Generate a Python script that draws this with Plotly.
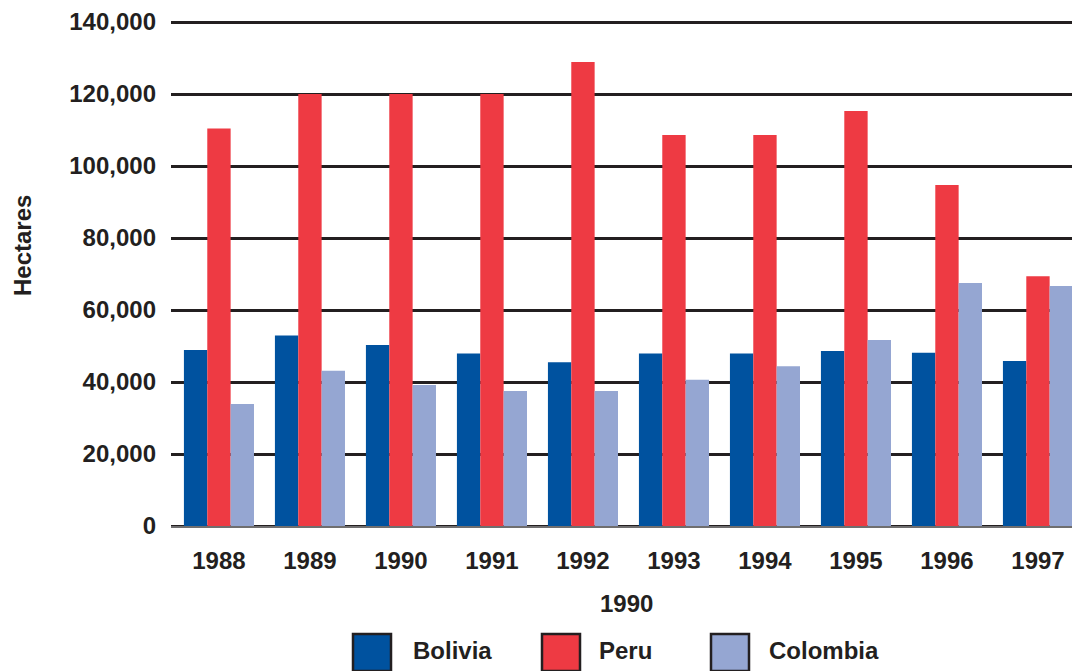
import plotly.graph_objects as go

# Coca cultivation by country, hectares
years = ["1988", "1989", "1990", "1991", "1992", "1993", "1994", "1995", "1996", "1997"]
bolivia = [48900, 52900, 50300, 47900, 45500, 47900, 47900, 48600, 48100, 45800]
peru = [110400, 120000, 120000, 120000, 128900, 108600, 108600, 115300, 94700, 69400]
colombia = [33900, 43100, 39200, 37500, 37500, 40600, 44400, 51700, 67500, 66700]

series_names = ["Bolivia", "Peru", "Colombia"]
series_values = [bolivia, peru, colombia]
series_colors = ["#00529f", "#ee3a43", "#95a6d2"]

y_ticks = [0, 20000, 40000, 60000, 80000, 100000, 120000, 140000]

TEXT = "#231f20"
FONT = "Liberation Sans, Arial, sans-serif"

W, H = 1072, 671
L, R, T, B = 171, 0, 18, 141
plot_w = W - L - R
plot_h = H - T - B


def px_x(px):
    return (px - L) / plot_w


def px_y(py):
    return (H - B - py) / plot_h


fig = go.Figure()
for name, vals, col in zip(series_names, series_values, series_colors):
    fig.add_trace(go.Bar(
        x=years, y=vals, name=name,
        marker=dict(color=col, line=dict(width=0)),
        showlegend=False,
    ))

fig.update_layout(
    width=W, height=H,
    margin=dict(l=L, r=R, t=T, b=B, pad=0),
    paper_bgcolor="white", plot_bgcolor="white",
    barmode="group", bargap=0.23, bargroupgap=0,
    font=dict(family=FONT, size=24, color=TEXT, weight="bold"),
)

fig.update_xaxes(
    type="category",
    range=[-0.527, 9.374],
    showgrid=False, showline=False,
    ticks="", ticklabelstandoff=14,
    tickfont=dict(family=FONT, size=24, color=TEXT, weight="bold"),
)

# padding on both ends keeps the 0 and 140,000 grid lines inside the plot
fig.update_yaxes(
    range=[-1111, 141111],
    tickvals=y_ticks,
    tickformat=",d",
    showgrid=True, gridcolor=TEXT, gridwidth=3,
    zeroline=False, showline=False,
    ticks="", ticklabelstandoff=14,
    tickfont=dict(family=FONT, size=24, color=TEXT, weight="bold"),
)

# thin grey base rule just under the bars
fig.add_shape(
    type="line", xref="paper", yref="y",
    x0=0, x1=1, y0=-300, y1=-300,
    line=dict(color="#8a8a8a", width=1.5), layer="above",
)

# axis titles
fig.add_annotation(
    text="1990", xref="paper", yref="paper",
    x=px_x(626), y=px_y(603), xanchor="center", yanchor="middle",
    showarrow=False, font=dict(family=FONT, size=24, color=TEXT, weight="bold"),
)
fig.add_annotation(
    text="Hectares", xref="paper", yref="paper", textangle=-90,
    x=px_x(22), y=px_y(246), xanchor="center", yanchor="middle",
    showarrow=False, font=dict(family=FONT, size=24, color=TEXT, weight="bold"),
)

# legend row along the bottom
box_left = [353, 542, 711]
text_left = [411, 597, 767]
for name, col, bx, tx in zip(series_names, series_colors, box_left, text_left):
    fig.add_shape(
        type="rect", xref="paper", yref="paper",
        x0=px_x(bx), x1=px_x(bx + 38), y0=px_y(634), y1=px_y(671),
        fillcolor=col, line=dict(color=TEXT, width=2.5),
    )
    fig.add_annotation(
        text=name, xref="paper", yref="paper",
        x=px_x(tx), y=px_y(650), xanchor="left", yanchor="middle",
        showarrow=False, font=dict(family=FONT, size=24, color=TEXT, weight="bold"),
    )

fig.write_html("out.html")
